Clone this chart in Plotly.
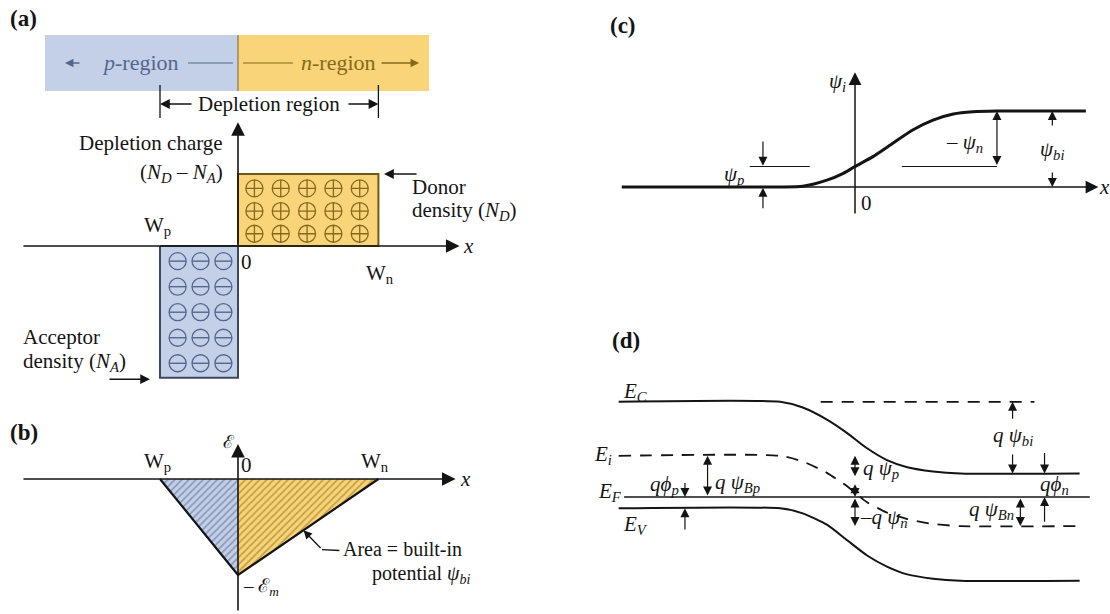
import numpy as np
import plotly.graph_objects as go

FIG_W, FIG_H = 1110, 614
SERIF = "Liberation Serif"
INK = "#141414"
FS = 21

# ---------------- data ----------------
# depletion edges (units of |W_p|) and normalised space-charge densities
W_P, W_N = -1.0, 1.8
N_D, N_A = 1.0, 1.83
E_MAX = 1.0  # peak field magnitude at the metallurgical junction

# (c) intrinsic potential psi_i(x), in units of psi_bi
PSI_X = [-2.99, -0.96, -0.67, -0.36, -0.15, 0.0, 0.23, 0.49, 0.74, 1.0, 1.26, 1.51, 1.82, 2.96]
PSI_I = [0.0, 0.0, 0.01, 0.09, 0.18, 0.27, 0.40, 0.58, 0.75, 0.88, 0.96, 0.99, 1.0, 1.0]
PSI_P = 0.27
PSI_BI = 1.0

# (d) band diagram, energies relative to E_F in units of q*psi_bi
BAND_X = [-3.03, -0.96, -0.67, -0.36, -0.10, 0.15, 0.41, 0.67, 1.0, 1.35, 2.88]
E_C = [1.34, 1.34, 1.26, 1.09, 0.90, 0.69, 0.52, 0.42, 0.36, 0.33, 0.33]
E_I = [0.58, 0.58, 0.50, 0.34, 0.15, -0.07, -0.22, -0.31, -0.38, -0.41, -0.41]
E_V = [-0.16, -0.16, -0.23, -0.39, -0.61, -0.82, -0.98, -1.09, -1.15, -1.18, -1.18]
E_F = 0.0

# colours
BLUE, BLUE_EDGE, BLUE_INK = "#c4cfe8", "#3c4766", "#55668e"
GOLD, GOLD_EDGE, GOLD_INK = "#f9d478", "#6f5a1c", "#86691c"


# ---------------- axes helpers ----------------
def x_axis(px0, px1, origin, scale):
    return dict(domain=[px0 / FIG_W, px1 / FIG_W],
                range=[(px0 - origin) / scale, (px1 - origin) / scale])


def y_axis(py0, py1, origin, scale):
    return dict(domain=[1 - py1 / FIG_H, 1 - py0 / FIG_H],
                range=[(origin - py1) / scale, (origin - py0) / scale])


hidden = dict(visible=False, showgrid=False, zeroline=False, fixedrange=True)

fig = go.Figure()
annotations = []
shapes = []


def text(xref, yref, x, y, s, size=FS, anchor="center", color=INK):
    annotations.append(dict(
        xref=xref, yref=yref, x=x, y=y, text=s,
        showarrow=False, xanchor=anchor, yanchor="middle", borderpad=0,
        font=dict(family=SERIF, size=size, color=color)))


def arrow(xref, yref, x0, y0, x1, y1, width=1.3, size=1.5, both=False, color=INK):
    annotations.append(dict(
        xref=xref, yref=yref, axref=xref, ayref=yref,
        ax=x0, ay=y0, x=x1, y=y1, text="", showarrow=True,
        arrowhead=2, arrowsize=size, arrowwidth=width, arrowcolor=color,
        startarrowhead=2, startarrowsize=size,
        arrowside="end+start" if both else "end", standoff=0, startstandoff=0))


def seg(xref, yref, x0, y0, x1, y1, width=1.3, color=INK, dash="solid"):
    shapes.append(dict(type="line", xref=xref, yref=yref, x0=x0, y0=y0, x1=x1, y1=y1,
                       line=dict(color=color, width=width, dash=dash), layer="above"))


def panel_label(px, py, s):
    annotations.append(dict(xref="paper", yref="paper", x=px / FIG_W, y=1 - py / FIG_H,
                            text=f"<b>{s}</b>", showarrow=False, xanchor="left",
                            yanchor="middle", font=dict(family=SERIF, size=23, color=INK)))


# ================= (a) space charge =================
# region banner
shapes.append(dict(type="rect", xref="x", yref="y", x0=-2.474, x1=0, y0=2.153, y1=2.931,
                   fillcolor=BLUE, line=dict(width=0), layer="below"))
shapes.append(dict(type="rect", xref="x", yref="y", x0=0, x1=2.449, y0=2.153, y1=2.931,
                   fillcolor=GOLD, line=dict(width=0), layer="below"))
seg("x", "y", 0, 2.153, 0, 2.931, width=1.2, color="#8a7640")
arrow("x", "y", -2.013, 2.542, -2.218, 2.542, width=1.3, size=1.3, color=BLUE_INK)
text("x", "y", -1.244, 2.542, "<i>p</i>-region", size=22, color=BLUE_INK)
seg("x", "y", -0.641, 2.542, -0.064, 2.542, width=1.2, color=BLUE_INK)
seg("x", "y", 0.064, 2.542, 0.705, 2.542, width=1.2, color=GOLD_INK)
text("x", "y", 1.282, 2.542, "<i>n</i>-region", size=22, color=GOLD_INK)
arrow("x", "y", 1.821, 2.542, 2.321, 2.542, width=1.3, size=1.3, color=GOLD_INK)

# depletion bracket
seg("x", "y", W_P, 1.778, W_P, 2.236, width=1.3)
seg("x", "y", W_N, 1.778, W_N, 2.236, width=1.3)
arrow("x", "y", -0.577, 1.972, W_P, 1.972, width=1.4, size=1.4)
arrow("x", "y", 1.397, 1.972, W_N, 1.972, width=1.4, size=1.4)
text("x", "y", 0.397, 1.972, "Depletion region", size=21)

# charge blocks
fig.add_trace(go.Scatter(x=[0, W_N, W_N, 0, 0], y=[0, 0, N_D, N_D, 0], fill="toself",
                         fillcolor=GOLD, mode="lines", line=dict(color=GOLD_EDGE, width=2),
                         xaxis="x", yaxis="y", hoverinfo="skip"))
fig.add_trace(go.Scatter(x=[W_P, 0, 0, W_P, W_P], y=[0, 0, -N_A, -N_A, 0], fill="toself",
                         fillcolor=BLUE, mode="lines", line=dict(color=BLUE_EDGE, width=2),
                         xaxis="x", yaxis="y", hoverinfo="skip"))

# ionised donors / acceptors
dx = np.linspace(0.117, 0.867, 5) * W_N
dy = np.linspace(0.80, 0.17, 3) * N_D
DX, DY = np.meshgrid(dx, dy)
fig.add_trace(go.Scatter(x=DX.ravel(), y=DY.ravel(), mode="markers", xaxis="x", yaxis="y",
                         marker=dict(symbol="circle-cross-open", size=17, color=GOLD_INK,
                                     line=dict(width=1.3, color=GOLD_INK)),
                         hoverinfo="skip"))
ax_ = np.linspace(0.774, 0.187, 3) * W_P
ay_ = -np.linspace(0.115, 0.89, 5) * N_A
AX, AY = np.meshgrid(ax_, ay_)
fig.add_trace(go.Scatter(x=AX.ravel(), y=AY.ravel(), mode="markers", xaxis="x", yaxis="y",
                         marker=dict(symbol="circle-open", size=17, color=BLUE_INK,
                                     line=dict(width=1.3, color=BLUE_INK)),
                         hoverinfo="skip"))
fig.add_trace(go.Scatter(x=AX.ravel(), y=AY.ravel(), mode="markers", xaxis="x", yaxis="y",
                         marker=dict(symbol="line-ew", size=12, color=BLUE_INK,
                                     line=dict(width=1.4, color=BLUE_INK)),
                         hoverinfo="skip"))

# axes
arrow("x", "y", -2.77, 0, 2.84, 0, width=1.6, size=1.7)
arrow("x", "y", 0, 0, 0, 1.72, width=1.6, size=1.7)
text("x", "y", 2.95, 0.0, "<i>x</i>")
text("x", "y", -0.18, 1.43, "Depletion charge", anchor="right")
text("x", "y", -0.18, 1.02, "(<i>N<sub>D</sub></i> – <i>N<sub>A</sub></i>)", anchor="right")
text("x", "y", 2.218, 0.82, "Donor", anchor="left")
text("x", "y", 2.218, 0.48, "density (<i>N<sub>D</sub></i>)", anchor="left")
arrow("x", "y", 2.308, N_D, 1.872, N_D, width=1.4, size=1.4)
text("x", "y", -1.038, 0.278, "W<sub>p</sub>")
text("x", "y", 0.103, -0.222, "0")
text("x", "y", 1.82, -0.389, "W<sub>n</sub>")
text("x", "y", -2.769, -1.27, "Acceptor", anchor="left")
text("x", "y", -2.769, -1.61, "density (<i>N<sub>A</sub></i>)", anchor="left")
arrow("x", "y", -1.667, -1.85, -1.128, -1.85, width=1.4, size=1.4)
panel_label(8, 18, "(a)")

# ================= (b) electric field =================
fig.add_trace(go.Scatter(x=[W_P, 0, 0, W_P], y=[0, 0, -E_MAX, 0], fill="toself",
                         fillcolor=BLUE, mode="lines", line=dict(width=0),
                         fillpattern=dict(shape="/", bgcolor=BLUE, fgcolor="#56678f",
                                          size=5, solidity=0.35),
                         xaxis="x", yaxis="y2", hoverinfo="skip"))
fig.add_trace(go.Scatter(x=[0, W_N, 0, 0], y=[0, 0, -E_MAX, 0], fill="toself",
                         fillcolor=GOLD, mode="lines", line=dict(width=0),
                         fillpattern=dict(shape="/", bgcolor=GOLD, fgcolor="#8a6f1e",
                                          size=5, solidity=0.35),
                         xaxis="x", yaxis="y2", hoverinfo="skip"))
fig.add_trace(go.Scatter(x=[W_P, 0, W_N], y=[0, -E_MAX, 0], mode="lines",
                         line=dict(color=INK, width=2.2), xaxis="x", yaxis="y2",
                         hoverinfo="skip"))
arrow("x", "y2", -2.77, 0, 2.79, 0, width=1.6, size=1.7)
arrow("x", "y2", 0, -1.385, 0, 0.365, width=1.6, size=1.7)
text("x", "y2", 2.92, 0.0, "<i>x</i>")
text("x", "y2", -0.115, 0.385, "ℰ", size=18)
text("x", "y2", 0.103, 0.146, "0")
text("x", "y2", -1.038, 0.177, "W<sub>p</sub>")
text("x", "y2", 1.756, 0.177, "W<sub>n</sub>")
text("x", "y2", 0.05, -1.125, "– ℰ<sub><i>m</i></sub>", anchor="left", size=19)
text("x", "y2", 1.333, -0.73, "Area = built-in", anchor="left", size=20)
text("x", "y2", 1.705, -0.99, "potential <i>ψ<sub>bi</sub></i>", anchor="left", size=20)
seg("x", "y2", 1.077, -0.735, 1.30, -0.745, width=1.3)
arrow("x", "y2", 1.077, -0.735, 0.84, -0.535, width=1.3, size=1.3)
panel_label(8, 432, "(b)")

# ================= (c) intrinsic potential =================
fig.add_trace(go.Scatter(x=PSI_X, y=PSI_I, mode="lines",
                         line=dict(color=INK, width=3, shape="spline", smoothing=0.6),
                         xaxis="x2", yaxis="y3", hoverinfo="skip"))
arrow("x2", "y3", -2.99, 0, 3.12, 0, width=1.5, size=1.7)
arrow("x2", "y3", 0, -0.37, 0, 1.51, width=1.5, size=1.7)
text("x2", "y3", 3.2, 0.0, "<i>x</i>")
text("x2", "y3", -0.22, 1.38, "<i>ψ<sub>i</sub></i>")
text("x2", "y3", 0.15, -0.21, "0")
# psi_p marker
seg("x2", "y3", -1.35, PSI_P, -0.58, PSI_P, width=1.2)
arrow("x2", "y3", -1.18, 0.62, -1.18, PSI_P + 0.01, width=1.2)
arrow("x2", "y3", -1.18, -0.30, -1.18, -0.01, width=1.2)
text("x2", "y3", -1.55, 0.158, "<i>ψ<sub>p</sub></i>")
# psi_n marker
seg("x2", "y3", 0.60, PSI_P, 1.82, PSI_P, width=1.2)
arrow("x2", "y3", 1.82, PSI_P, 1.82, PSI_BI, width=1.2, both=True)
text("x2", "y3", 1.66, 0.58, "– <i>ψ<sub>n</sub></i>", anchor="right")
# psi_bi marker
arrow("x2", "y3", 2.53, 0.79, 2.53, PSI_BI, width=1.2)
arrow("x2", "y3", 2.53, 0.21, 2.53, 0.0, width=1.2)
text("x2", "y3", 2.53, 0.49, "<i>ψ<sub>bi</sub></i>")
panel_label(608, 25, "(c)")

# ================= (d) band diagram =================
for e_band in (E_C, E_V):
    fig.add_trace(go.Scatter(x=BAND_X, y=e_band, mode="lines",
                             line=dict(color=INK, width=2, shape="spline", smoothing=0.6),
                             xaxis="x2", yaxis="y4", hoverinfo="skip"))
fig.add_trace(go.Scatter(x=BAND_X, y=E_I, mode="lines",
                         line=dict(color=INK, width=1.8, shape="spline", smoothing=0.6,
                                   dash="12px,9px"),
                         xaxis="x2", yaxis="y4", hoverinfo="skip"))
fig.add_trace(go.Scatter(x=[-2.96, 3.01], y=[E_F, E_F], mode="lines",
                         line=dict(color=INK, width=1.3), xaxis="x2", yaxis="y4",
                         hoverinfo="skip"))
seg("x2", "y4", -0.44, E_C[0], 2.30, E_C[0], width=1.8, dash="12px,9px")

text("x2", "y4", -2.99, 1.479, "<i>E<sub>C</sub></i>", anchor="left")
text("x2", "y4", -3.36, 0.59, "<i>E<sub>i</sub></i>", anchor="left")
text("x2", "y4", -3.31, 0.07, "<i>E<sub>F</sub></i>", anchor="left")
text("x2", "y4", -2.99, -0.39, "<i>E<sub>V</sub></i>", anchor="left")

# q phi_p
arrow("x2", "y4", -2.18, 0.22, -2.18, E_F, width=1.2)
arrow("x2", "y4", -2.18, -0.48, -2.18, E_V[0], width=1.2)
text("x2", "y4", -2.25, 0.17, "<i>qϕ<sub>p</sub></i>", anchor="right")
# q psi_Bp
arrow("x2", "y4", -1.89, E_F, -1.89, E_I[0], width=1.2, both=True)
text("x2", "y4", -1.81, 0.20, "<i>q ψ<sub>Bp</sub></i>", anchor="left")
# q psi_p / -q psi_n at the junction
arrow("x2", "y4", 0.0, 0.27, 0.0, E_I[0], width=1.2, both=True)
arrow("x2", "y4", 0.0, 0.20, 0.0, E_F, width=1.2, both=True)
text("x2", "y4", 0.09, 0.40, "<i>q ψ<sub>p</sub></i>", anchor="left")
arrow("x2", "y4", 0.0, E_F, 0.0, E_I[-1], width=1.2, both=True)
text("x2", "y4", 0.05, -0.30, "–<i>q ψ<sub>n</sub></i>", anchor="left")
# q psi_bi
arrow("x2", "y4", 2.02, 1.08, 2.02, E_C[0], width=1.2)
arrow("x2", "y4", 2.02, 0.62, 2.02, E_C[-1], width=1.2)
text("x2", "y4", 2.02, 0.86, "<i>q ψ<sub>bi</sub></i>")
# q phi_n
arrow("x2", "y4", 2.43, 0.64, 2.43, E_C[-1], width=1.2)
arrow("x2", "y4", 2.43, -0.37, 2.43, E_F, width=1.2)
text("x2", "y4", 2.56, 0.17, "<i>qϕ<sub>n</sub></i>")
# q psi_Bn
arrow("x2", "y4", 2.12, E_F, 2.12, E_I[-1], width=1.2, both=True)
text("x2", "y4", 1.75, -0.18, "<i>q ψ<sub>Bn</sub></i>")
panel_label(610, 340, "(d)")

fig.update_layout(
    width=FIG_W, height=FIG_H, margin=dict(l=0, r=0, t=0, b=0),
    paper_bgcolor="white", plot_bgcolor="rgba(0,0,0,0)", showlegend=False,
    xaxis=dict(**hidden, **x_axis(0, 540, 238, 78), anchor="y"),
    xaxis2=dict(**hidden, **x_axis(580, 1110, 855, 78), anchor="y3"),
    yaxis=dict(**hidden, **y_axis(0, 400, 246, 72), anchor="x"),
    yaxis2=dict(**hidden, **y_axis(400, 614, 479, 96), anchor="x"),
    yaxis3=dict(**hidden, **y_axis(0, 300, 187, 76), anchor="x2"),
    yaxis4=dict(**hidden, **y_axis(300, 614, 497, 71), anchor="x2"),
    annotations=annotations, shapes=shapes,
)

fig.write_html("out.html")
